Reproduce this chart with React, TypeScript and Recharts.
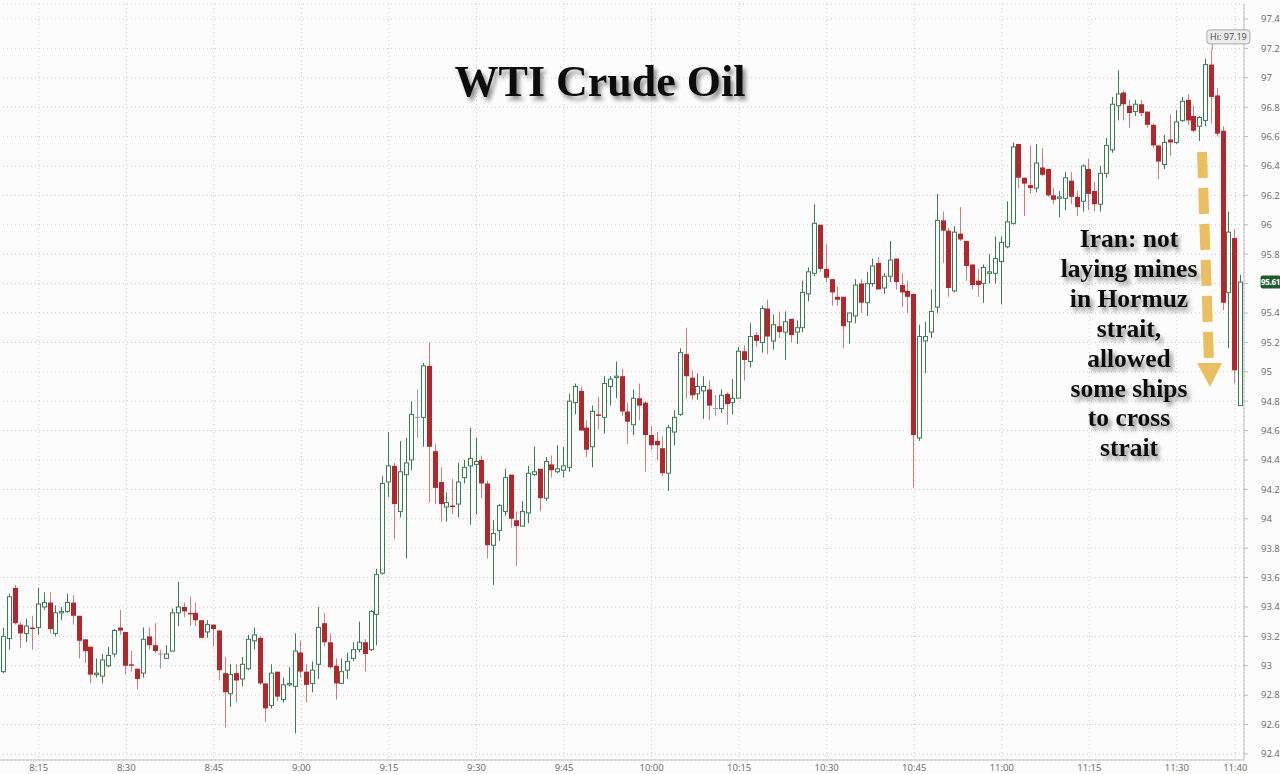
import React from "react"
import { ComposedChart, Bar, XAxis, YAxis, CartesianGrid, ReferenceDot } from "recharts"

// one-minute WTI candles, 8:08 -> 11:41
const START_MIN = 8 * 60 + 8

const OPEN = [
  92.87, 92.96, 93.185, 93.53, 93.28, 93.22, 93.26, 93.26, 93.4, 93.43,
  93.22, 93.36, 93.37, 93.43, 93.34, 93.18, 93.13, 92.94, 92.93, 93.0,
  93.08, 93.26, 93.23, 93.01, 92.98, 92.95, 93.2, 93.14, 93.08, 93.05,
  93.1, 93.36, 93.4, 93.36, 93.36, 93.31, 93.23, 93.28, 93.24, 92.95,
  92.81, 92.95, 92.91, 92.98, 93.17, 93.19, 92.88, 92.73, 92.96, 92.77,
  92.87, 92.86, 93.09, 92.96, 92.88, 93.01, 93.29, 93.16, 93.0, 92.88,
  92.97, 93.05, 93.11, 93.16, 93.11, 93.35, 93.63, 94.25, 94.36, 94.05,
  94.3, 94.4, 94.69, 94.69, 95.04, 94.46, 94.25, 94.08, 94.09, 94.1,
  94.28, 94.36, 94.37, 94.4, 94.24, 93.82, 93.92, 94.05, 94.3, 93.99,
  93.95, 94.04, 94.3, 94.34, 94.14, 94.37, 94.32, 94.33, 94.35, 94.79,
  94.87, 94.62, 94.49, 94.71, 94.69, 94.9, 94.96, 94.97, 94.73, 94.64,
  94.82, 94.79, 94.57, 94.53, 94.48, 94.31, 94.59, 94.71, 95.12, 94.96,
  94.85, 94.87, 94.88, 94.75, 94.75, 94.85, 94.79, 94.82, 95.14, 95.07,
  95.25, 95.2, 95.43, 95.21, 95.31, 95.27, 95.36, 95.27, 95.3, 95.53,
  95.67, 96.0, 95.7, 95.63, 95.51, 95.51, 95.34, 95.38, 95.6, 95.47,
  95.6, 95.74, 95.57, 95.65, 95.77, 95.59, 95.55, 95.53, 94.55, 95.21,
  95.27, 95.44, 96.03, 95.96, 95.55, 95.94, 95.89, 95.73, 95.62, 95.6,
  95.67, 95.67, 95.75, 95.85, 96.01, 96.55, 96.32, 96.27, 96.25, 96.39,
  96.38, 96.2, 96.18, 96.18, 96.3, 96.19, 96.16, 96.38, 96.23, 96.14,
  96.35, 96.51, 96.81, 96.9, 96.81, 96.77, 96.82, 96.77, 96.68, 96.54,
  96.41, 96.58, 96.56, 96.71, 96.85, 96.74, 96.67, 96.71, 97.09, 96.88,
  96.64, 95.54, 95.91, 94.77,
]

const HIGH = [
  93.0, 93.26, 93.49, 93.55, 93.3, 93.32, 93.34, 93.53, 93.5, 93.5,
  93.41, 93.4, 93.49, 93.48, 93.34, 93.18, 93.13, 93.05, 93.08, 93.13,
  93.25, 93.38, 93.23, 93.1, 92.98, 93.26, 93.26, 93.29, 93.11, 93.14,
  93.39, 93.57, 93.43, 93.47, 93.43, 93.31, 93.31, 93.28, 93.24, 93.06,
  93.01, 93.01, 93.06, 93.21, 93.26, 93.2, 92.88, 93.01, 92.96, 92.92,
  92.99, 93.22, 93.17, 93.01, 93.03, 93.4, 93.36, 93.22, 93.05, 93.05,
  93.09, 93.16, 93.3, 93.18, 93.38, 93.66, 94.29, 94.59, 94.38, 94.53,
  94.55, 94.8, 94.88, 95.06, 95.2, 94.51, 94.35, 94.18, 94.27, 94.38,
  94.4, 94.62, 94.55, 94.43, 94.26, 93.99, 94.1, 94.34, 94.3, 94.05,
  94.12, 94.36, 94.49, 94.34, 94.42, 94.43, 94.5, 94.49, 94.85, 94.92,
  94.9, 94.67, 94.77, 94.83, 94.97, 94.97, 95.07, 95.02, 94.79, 94.88,
  94.92, 94.8, 94.63, 94.59, 94.56, 94.64, 94.74, 95.16, 95.3, 95.01,
  94.99, 94.97, 94.94, 94.84, 94.88, 94.86, 94.95, 95.17, 95.18, 95.33,
  95.27, 95.45, 95.49, 95.39, 95.41, 95.41, 95.36, 95.35, 95.62, 95.71,
  96.14, 96.0, 95.87, 95.63, 95.58, 95.51, 95.4, 95.63, 95.63, 95.68,
  95.77, 95.78, 95.67, 95.89, 95.77, 95.67, 95.62, 95.53, 95.32, 95.34,
  95.56, 96.21, 96.09, 95.98, 95.99, 96.12, 95.89, 95.73, 95.7, 95.73,
  95.8, 95.92, 95.92, 96.16, 96.56, 96.55, 96.32, 96.54, 96.55, 96.52,
  96.38, 96.25, 96.23, 96.36, 96.36, 96.23, 96.41, 96.45, 96.29, 96.4,
  96.59, 96.87, 97.05, 96.91, 96.85, 96.85, 96.85, 96.77, 96.69, 96.54,
  96.61, 96.75, 96.78, 96.87, 96.89, 96.81, 96.74, 97.13, 97.19, 96.93,
  96.67, 96.09, 95.97, 95.66,
]

const LOW = [
  92.85, 92.95, 93.11, 93.28, 93.12, 93.16, 93.11, 93.21, 93.38, 93.22,
  93.2, 93.31, 93.36, 93.28, 93.05, 93.02, 92.88, 92.92, 92.88, 92.99,
  93.06, 93.21, 92.94, 92.96, 92.84, 92.92, 93.11, 93.09, 92.98, 93.05,
  93.1, 93.27, 93.33, 93.27, 93.27, 93.19, 93.19, 93.13, 92.9, 92.58,
  92.72, 92.75, 92.86, 92.97, 93.11, 92.87, 92.62, 92.71, 92.76, 92.75,
  92.86, 92.54, 92.92, 92.75, 92.82, 92.91, 93.13, 92.98, 92.77, 92.88,
  92.91, 93.03, 93.09, 92.96, 93.1, 93.14, 93.62, 94.15, 93.86, 94.01,
  93.73, 94.33, 94.55, 94.49, 94.11, 94.1, 93.98, 93.98, 94.03, 94.01,
  94.24, 93.96, 94.03, 94.14, 93.73, 93.55, 93.85, 94.02, 93.94, 93.68,
  93.95, 93.97, 94.29, 94.05, 94.12, 94.28, 94.31, 94.28, 94.32, 94.71,
  94.6, 94.42, 94.35, 94.61, 94.58, 94.77, 94.82, 94.7, 94.51, 94.57,
  94.67, 94.32, 94.47, 94.4, 94.29, 94.19, 94.5, 94.7, 94.82, 94.81,
  94.81, 94.68, 94.67, 94.7, 94.72, 94.64, 94.71, 94.82, 94.94, 95.03,
  95.17, 95.13, 95.12, 95.15, 95.23, 95.08, 95.2, 95.19, 95.27, 95.48,
  95.65, 95.68, 95.61, 95.45, 95.45, 95.16, 95.19, 95.33, 95.4, 95.38,
  95.58, 95.56, 95.53, 95.61, 95.56, 95.44, 95.4, 94.21, 94.53, 94.99,
  95.23, 95.4, 95.74, 95.51, 95.54, 95.89, 95.62, 95.56, 95.51, 95.47,
  95.6, 95.6, 95.46, 95.84, 96.0, 96.25, 96.06, 96.21, 96.22, 96.33,
  96.19, 96.14, 96.05, 96.1, 96.14, 96.06, 96.09, 96.1, 96.09, 96.09,
  96.32, 96.49, 96.71, 96.71, 96.66, 96.74, 96.74, 96.66, 96.52, 96.31,
  96.38, 96.47, 96.55, 96.7, 96.68, 96.63, 96.57, 96.67, 96.69, 96.6,
  95.42, 95.16, 94.92, 94.77,
]

const CLOSE = [
  92.95, 93.2, 93.47, 93.29, 93.22, 93.27, 93.25, 93.42, 93.43, 93.25,
  93.36, 93.37, 93.43, 93.34, 93.17, 93.1, 92.94, 92.95, 93.04, 93.07,
  93.24, 93.24, 93.0, 93.0, 92.91, 93.18, 93.14, 93.1, 93.08, 93.08,
  93.36, 93.4, 93.37, 93.35, 93.31, 93.19, 93.28, 93.25, 92.97, 92.82,
  92.94, 92.9, 93.01, 93.18, 93.21, 92.88, 92.71, 92.95, 92.79, 92.87,
  92.88, 93.1, 92.96, 92.87, 92.97, 93.26, 93.16, 92.99, 92.88, 92.96,
  93.03, 93.11, 93.16, 93.08, 93.37, 93.62, 94.24, 94.36, 94.1, 94.32,
  94.38, 94.71, 94.69, 95.04, 94.49, 94.21, 94.1, 94.11, 94.08, 94.25,
  94.35, 94.41, 94.39, 94.24, 93.82, 93.9, 94.09, 94.28, 94.0, 93.95,
  94.05, 94.31, 94.32, 94.14, 94.39, 94.33, 94.34, 94.36, 94.8, 94.9,
  94.6, 94.47, 94.73, 94.7, 94.92, 94.95, 94.97, 94.73, 94.66, 94.82,
  94.77, 94.57, 94.5, 94.5, 94.31, 94.62, 94.69, 95.13, 94.97, 94.84,
  94.9, 94.9, 94.77, 94.75, 94.84, 94.78, 94.82, 95.14, 95.08, 95.24,
  95.21, 95.43, 95.24, 95.32, 95.27, 95.34, 95.25, 95.3, 95.54, 95.68,
  96.01, 95.7, 95.64, 95.54, 95.49, 95.31, 95.4, 95.59, 95.47, 95.6,
  95.72, 95.56, 95.65, 95.76, 95.61, 95.54, 95.51, 94.57, 95.24, 95.24,
  95.41, 96.03, 95.96, 95.57, 95.95, 95.9, 95.72, 95.59, 95.59, 95.71,
  95.68, 95.77, 95.88, 96.02, 96.53, 96.32, 96.28, 96.25, 96.42, 96.34,
  96.2, 96.17, 96.19, 96.32, 96.19, 96.12, 96.4, 96.21, 96.14, 96.35,
  96.54, 96.82, 96.89, 96.82, 96.76, 96.82, 96.76, 96.68, 96.54, 96.43,
  96.56, 96.56, 96.7, 96.84, 96.71, 96.64, 96.73, 97.09, 96.87, 96.62,
  95.47, 95.95, 95.01, 95.61,
]

const X_TICKS = ["8:15", "8:30", "8:45", "9:00", "9:15", "9:30", "9:45", "10:00", "10:15", "10:30", "10:45", "11:00", "11:15", "11:30", "11:40"]
const Y_TICKS = [92.4, 92.6, 92.8, 93, 93.2, 93.4, 93.6, 93.8, 94, 94.2, 94.4, 94.6, 94.8, 95, 95.2, 95.4, 95.6, 95.8, 96, 96.2, 96.4, 96.6, 96.8, 97, 97.2, 97.4]

const TITLE = "WTI Crude Oil"
const NOTE = ["Iran: not", "laying mines", "in Hormuz", "strait,", "allowed", "some ships", "to cross", "strait"]

const BG = "#fcfcfc"
const UP = "#3b7a52"
const DOWN = "#b3262b"
const DOWN_WICK = "#d27c7e"
const FLAT = "#9a9a9a"
const AXIS = "#bdbdbd"
const LABEL = "#666"

const n = Math.min(OPEN.length, HIGH.length, LOW.length, CLOSE.length)
const fmtTime = (m: number) => `${Math.floor(m / 60)}:${String(m % 60).padStart(2, "0")}`

const data = Array.from({ length: n }, (_, i) => {
  const o = OPEN[i], c = CLOSE[i]
  const h = Math.max(HIGH[i], o, c), l = Math.min(LOW[i], o, c)
  return { t: fmtTime(START_MIN + i), o, h, l, c, range: [l, h] }
})

let hiIdx = 0
data.forEach((d, i) => { if (d.h > data[hiIdx].h) hiIdx = i })
const last = data[data.length - 1]

function Candle(props: any) {
  const { x, y, width, height, payload } = props
  if (!payload) return null
  const { o, h, l, c } = payload
  const top = height < 0 ? y + height : y
  const span = Math.abs(height)
  const ppu = h > l ? span / (h - l) : 0
  const yOf = (p: number) => top + (h - p) * ppu
  const bx = Math.round(x + width / 2 - 2.5)
  const wx = bx + 2.5
  const bodyTop = yOf(Math.max(o, c))
  const bodyBot = yOf(Math.min(o, c))
  if (c > o) {
    return (
      <g>
        <line x1={wx} x2={wx} y1={top} y2={bodyTop} stroke={UP} />
        <line x1={wx} x2={wx} y1={bodyBot} y2={top + span} stroke={UP} />
        <rect x={bx + 0.5} y={bodyTop} width={4} height={Math.max(bodyBot - bodyTop, 1)} fill={BG} stroke={UP} strokeWidth={1} />
      </g>
    )
  }
  if (c < o) {
    return (
      <g>
        <line x1={wx} x2={wx} y1={top} y2={top + span} stroke={DOWN_WICK} />
        <rect x={bx} y={bodyTop} width={5} height={Math.max(bodyBot - bodyTop, 1.5)} fill={DOWN} />
      </g>
    )
  }
  return (
    <g>
      <line x1={wx} x2={wx} y1={top} y2={top + span} stroke={FLAT} />
      <line x1={bx} x2={bx + 5} y1={bodyTop} y2={bodyTop} stroke={FLAT} />
    </g>
  )
}

// price labels; the one hidden behind the last-price tag is skipped
function PriceTick(props: any) {
  const { x, y, payload } = props
  if (Math.abs(payload.value - last.c) < 0.08) return null
  return (
    <text x={x} y={y} dy="0.35em" textAnchor="start" fontSize={9.5} fill={LABEL} fontFamily="Open Sans">
      {`${payload.value}`}
    </text>
  )
}

function HiLabel(props: any) {
  const { cx, cy } = props
  return (
    <g>
      <line x1={cx + 0.5} x2={cx + 0.5} y1={cy} y2={cy - 6} stroke="#999" />
      <rect x={cx - 5} y={cy - 20} width={43} height={14} rx={3} fill="#ececec" stroke="#aaa" />
      <text x={cx + 16.5} y={cy - 9.5} textAnchor="middle" fontSize={9} fontFamily="Open Sans" fill="#444">
        Hi: {data[hiIdx].h.toFixed(2)}
      </text>
    </g>
  )
}

function LastTag(props: any) {
  const { cx, cy } = props
  return (
    <g>
      <rect x={cx + 19.5} y={cy - 6.5} width={20} height={13} rx={2} fill="#1d5c31" />
      <text x={cx + 29.5} y={cy + 3} textAnchor="middle" fontSize={8} fontWeight="bold" fontFamily="Open Sans" fill="#fff" letterSpacing={-0.3}>
        {last.c.toFixed(2)}
      </text>
    </g>
  )
}

export default function App() {
  return (
    <div style={{ position: "absolute", left: 0, top: 0, width: 1280, height: 774, overflow: "hidden", background: BG }}>
      <div style={{ position: "absolute", left: -5, top: 0 }}>
        <ComposedChart width={1290} height={774} data={data} margin={{ top: 4, right: 0, left: 0, bottom: 0 }} barCategoryGap={0}>
          <CartesianGrid stroke="#c9c9c9" strokeDasharray="1 3" />
          <XAxis
            dataKey="t"
            ticks={X_TICKS}
            interval={0}
            height={14}
            tickLine={false}
            tickSize={0}
            tickMargin={4}
            axisLine={{ stroke: AXIS }}
            tick={{ fontSize: 9.5, fill: LABEL, fontFamily: "Open Sans" }}
          />
          <YAxis
            orientation="right"
            type="number"
            domain={[92.359, 97.502]}
            allowDataOverflow
            ticks={Y_TICKS}
            interval={0}
            width={41}
            tickSize={4}
            tickMargin={13}
            tickLine={{ stroke: AXIS }}
            axisLine={{ stroke: AXIS }}
            tick={<PriceTick />}
          />
          <Bar dataKey="range" barSize={5} shape={<Candle />} isAnimationActive={false} />
          <ReferenceDot x={data[hiIdx].t} y={data[hiIdx].h} r={0} shape={<HiLabel />} />
          <ReferenceDot x={last.t} y={last.c} r={0} shape={<LastTag />} />
        </ComposedChart>
      </div>
      <svg width={1280} height={774} style={{ position: "absolute", left: 0, top: 0, pointerEvents: "none" }}>
        <defs>
          <filter id="shadow" x="-10%" y="-30%" width="130%" height="170%">
            <feDropShadow dx={3} dy={4} stdDeviation={2.2} floodColor="#000" floodOpacity={0.45} />
          </filter>
        </defs>
        <text x={600} y={96} textAnchor="middle" fontFamily="'Liberation Serif', serif" fontWeight="bold" fontSize={44} fill="#111" filter="url(#shadow)">
          {TITLE}
        </text>
        {NOTE.map((line, i) => (
          <text key={i} x={1129} y={247 + i * 29.9} textAnchor="middle" fontFamily="'Liberation Serif', serif" fontWeight="bold" fontSize={25.5} fill="#111" filter="url(#shadow)">
            {line}
          </text>
        ))}
        <g opacity={0.85}>
          <line x1={1202} y1={152} x2={1209} y2={362} stroke="#e8b446" strokeWidth={10} strokeDasharray="26 10" />
          <polygon points="1197,363 1222,363 1210,387" fill="#e8b446" />
        </g>
      </svg>
    </div>
  )
}
